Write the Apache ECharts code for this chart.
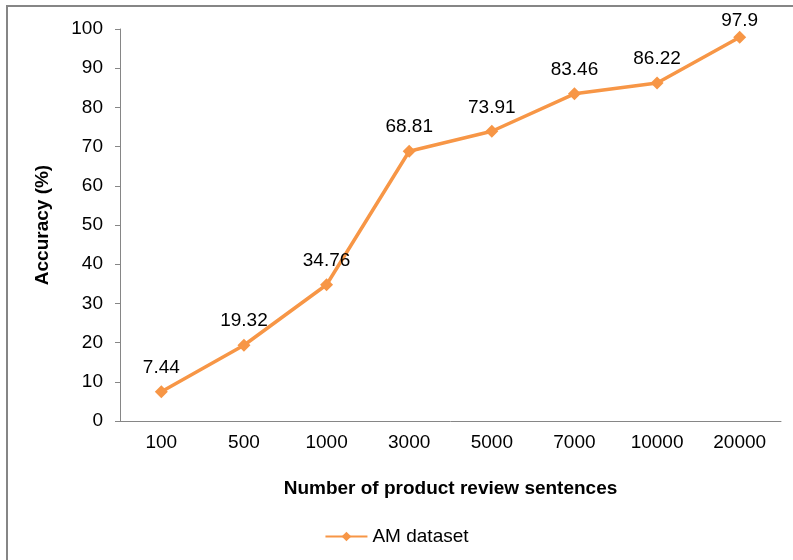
<!DOCTYPE html>
<html>
<head>
<meta charset="utf-8">
<script src="https://cdn.jsdelivr.net/npm/echarts@6/dist/echarts.min.js"></script>
<style>
  html, body { margin: 0; padding: 0; background: #fff; }
  #chart { width: 793px; height: 560px; }
</style>
</head>
<body>
<div id="chart"></div>
<script>
// datos
const categorias = ['100', '500', '1000', '3000', '5000', '7000', '10000', '20000'];
const precision = [7.44, 19.32, 34.76, 68.81, 73.91, 83.46, 86.22, 97.9];
const nombreSerie = 'AM dataset';

const colorLinea = '#F79646';
const fuente = "'Liberation Sans', Arial, sans-serif";

const chart = echarts.init(document.getElementById('chart'));

// la ultima etiqueta queda mas pegada al punto (como en el original)
const datosSerie = precision.map((v, i) => i === precision.length - 1
  ? { value: v, label: { distance: 0 } }
  : v);

const option = {
  animation: false,
  backgroundColor: '#fff',
  graphic: [{
    type: 'rect',
    shape: { x: 7, y: 6, width: 820, height: 600 },
    style: { fill: 'none', stroke: '#868686', lineWidth: 2 }
  }],
  grid: { left: 120, right: 12, top: 29, bottom: 139 },
  legend: {
    bottom: 9,
    left: 'center',
    itemWidth: 42,
    itemHeight: 12,
    itemGap: 4,
    textStyle: { fontFamily: fuente, fontSize: 19, color: '#000' },
    data: [nombreSerie]
  },
  xAxis: {
    type: 'category',
    data: categorias,
    name: 'Number of product review sentences',
    nameLocation: 'middle',
    nameGap: 58,
    nameTextStyle: { fontFamily: fuente, fontSize: 19, fontWeight: 'bold', color: '#000' },
    axisLine: { lineStyle: { color: '#868686', width: 1 } },
    axisTick: { length: 5, lineStyle: { color: '#868686' } },
    axisLabel: { fontFamily: fuente, fontSize: 19, color: '#000', margin: 12 }
  },
  yAxis: {
    type: 'value',
    min: 0,
    max: 100,
    interval: 10,
    name: 'Accuracy (%)',
    nameLocation: 'middle',
    nameGap: 68,
    nameTextStyle: { fontFamily: fuente, fontSize: 19, fontWeight: 'bold', color: '#000' },
    axisLine: { show: true, lineStyle: { color: '#868686', width: 1 } },
    axisTick: { show: true, length: 5, lineStyle: { color: '#868686' } },
    splitLine: { show: false },
    axisLabel: { fontFamily: fuente, fontSize: 19, color: '#000', margin: 17 }
  },
  series: [{
    name: nombreSerie,
    type: 'line',
    data: datosSerie,
    smooth: false,
    symbol: 'diamond',
    symbolSize: 13,
    lineStyle: { color: colorLinea, width: 3.5 },
    itemStyle: { color: colorLinea },
    label: {
      show: true,
      position: 'top',
      distance: 8,
      fontFamily: fuente,
      fontSize: 19,
      color: '#000'
    }
  }]
};

chart.setOption(option);
</script>
</body>
</html>
